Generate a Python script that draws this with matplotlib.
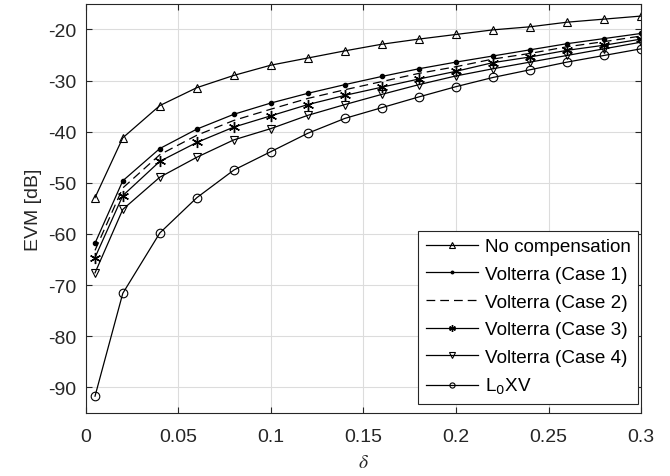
import matplotlib
matplotlib.use("Agg")
import matplotlib.pyplot as plt

delta = [0.005, 0.02, 0.04, 0.06, 0.08, 0.10, 0.12, 0.14, 0.16, 0.18, 0.20, 0.22, 0.24, 0.26, 0.28, 0.30]

no_comp = [-52.9, -41.2, -34.9, -31.4, -29.0, -27.0, -25.6, -24.2, -22.9, -21.9, -21.0, -20.1, -19.5, -18.6, -18.0, -17.4]
case1 = [-61.8, -49.6, -43.3, -39.5, -36.6, -34.4, -32.5, -30.8, -29.2, -27.7, -26.4, -25.2, -24.0, -22.8, -21.8, -20.8]
case2 = [-63.2, -51.0, -44.5, -40.7, -37.8, -35.6, -33.5, -31.8, -30.2, -28.6, -27.3, -25.8, -24.7, -23.4, -22.4, -21.3]
case3 = [-64.6, -52.5, -45.8, -42.1, -39.1, -36.9, -34.7, -32.9, -31.3, -29.7, -28.2, -26.5, -25.4, -24.1, -23.1, -21.9]
case4 = [-67.6, -55.2, -48.9, -45.0, -41.6, -39.4, -36.8, -34.7, -32.7, -30.8, -29.1, -27.7, -26.4, -25.1, -23.8, -22.5]
l0xv = [-91.7, -71.6, -59.8, -52.9, -47.5, -43.9, -40.3, -37.4, -35.3, -33.2, -31.2, -29.4, -27.9, -26.4, -25.1, -23.8]

xticks = [0, 0.05, 0.1, 0.15, 0.2, 0.25, 0.3]
xticklabels = ["0", "0.05", "0.1", "0.15", "0.2", "0.25", "0.3"]
yticks = [-90, -80, -70, -60, -50, -40, -30, -20]

plt.rcParams['font.family'] = ['Liberation Sans', 'DejaVu Sans']
plt.rcParams['axes.unicode_minus'] = False

fig = plt.figure(figsize=(6.7, 4.77), dpi=100)
ax = fig.add_axes([0.128, 0.132, 0.829, 0.858])

lw = 0.9
ms = 6.2
ax.plot(delta, no_comp, '-', color='k', lw=lw, marker='^', ms=ms, mfc='none', mew=0.8, label='No compensation')
ax.plot(delta, case1, '-', color='k', lw=lw, marker='.', ms=6, label='Volterra (Case 1)')
ax.plot(delta, case2, '--', color='k', lw=lw, dashes=(7, 4), label='Volterra (Case 2)')
ax.plot(delta, case3, '-', color='k', lw=lw, marker=(6, 2, 0), ms=8, mew=1.0, label='Volterra (Case 3)')
ax.plot(delta, case4, '-', color='k', lw=lw, marker='v', ms=ms, mfc='none', mew=0.8, label='Volterra (Case 4)')
ax.plot(delta, l0xv, '-', color='k', lw=lw, marker='o', ms=ms, mfc='none', mew=0.8, label='L$_0$XV')

ax.set_xlim(0, 0.3)
ax.set_ylim(-95, -15)
ax.set_xticks(xticks)
ax.set_xticklabels(xticklabels)
ax.set_yticks(yticks)
ax.grid(True, color='#dcdcdc', lw=0.8)
ax.set_axisbelow(True)
ax.tick_params(direction='in', length=4, labelsize=14, colors='#262626', top=True, right=True)
ax.tick_params(axis='x', pad=11)
ax.tick_params(axis='y', pad=7)
for s in ax.spines.values():
    s.set_color('#262626')
    s.set_linewidth(0.8)

ax.set_ylabel('EVM [dB]', fontsize=14, color='#262626', labelpad=4)
ax.set_xlabel(r'$\delta$', fontsize=14, color='#262626', labelpad=6, math_fontfamily='stix')

leg = ax.legend(loc='lower right', bbox_to_anchor=(0.9946, 0.022), fontsize=13.6, frameon=True,
                fancybox=False, edgecolor='#262626',
                handlelength=2.75, borderaxespad=0.0, labelspacing=0.55, handletextpad=0.37,
                borderpad=0.4, framealpha=1, markerscale=0.6)
leg.get_frame().set_linewidth(0.8)

fig.savefig('out.png', dpi=100)
